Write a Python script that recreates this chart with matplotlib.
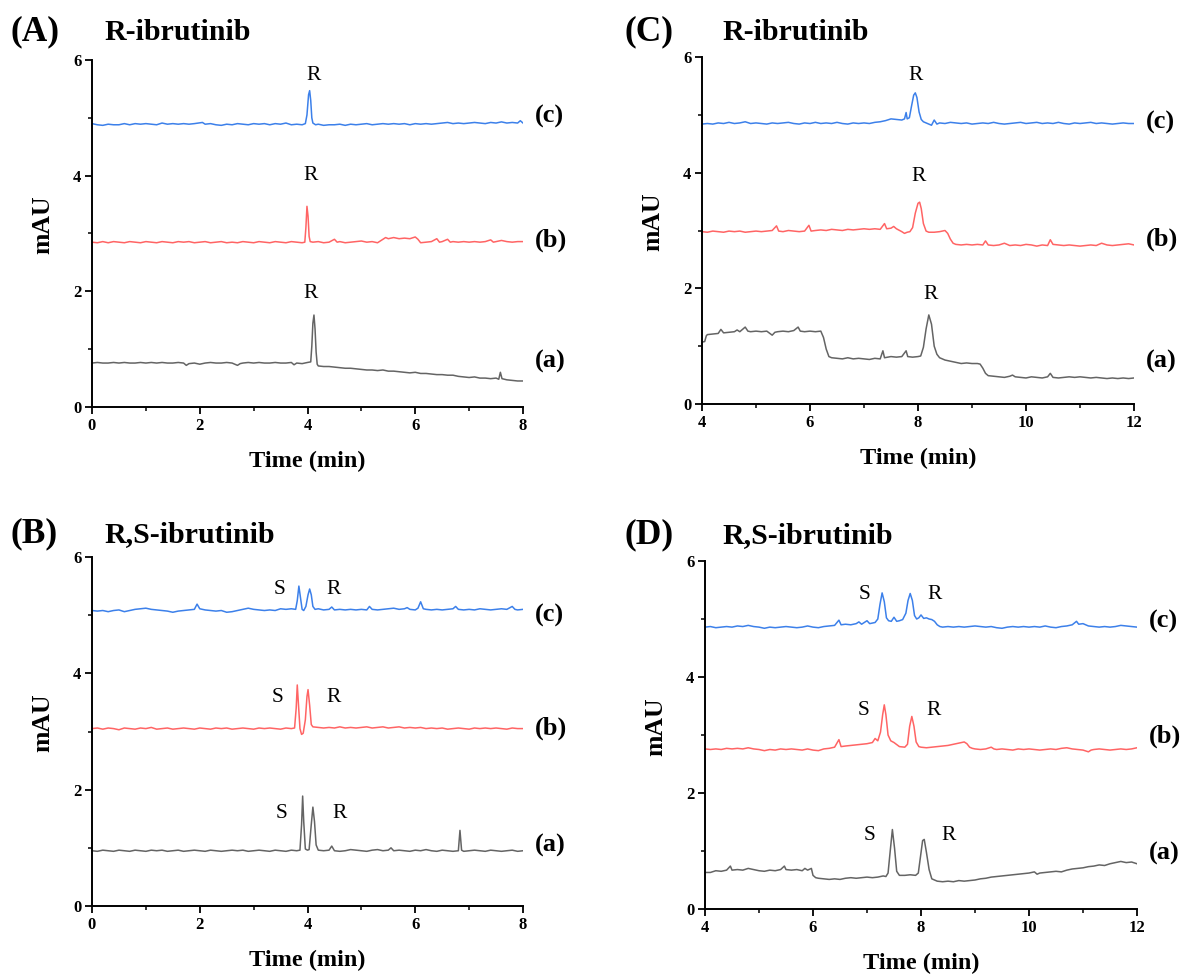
import numpy as np
import matplotlib
matplotlib.use("Agg")
import matplotlib.pyplot as plt
from matplotlib.ticker import MultipleLocator

plt.rcParams['font.family'] = ['Liberation Serif', 'DejaVu Serif']

# chromatogram traces, (time min, mAU)
# panel A: R-ibrutinib, 0-8 min
A_c = [(0.0,4.90),(0.1,4.88),(0.2,4.87),(0.3,4.89),(0.4,4.88),(0.5,4.88),(0.6,4.90),(0.7,4.88),(0.8,4.90),(0.9,4.89),
       (1.0,4.90),(1.1,4.89),(1.2,4.88),(1.3,4.91),(1.4,4.89),(1.5,4.90),(1.6,4.89),(1.7,4.90),(1.8,4.89),(1.9,4.90),
       (2.05,4.92),(2.1,4.89),(2.2,4.90),(2.3,4.88),(2.4,4.87),(2.5,4.89),(2.6,4.88),(2.7,4.90),(2.8,4.89),(2.9,4.88),
       (3.0,4.90),(3.1,4.89),(3.2,4.90),(3.3,4.88),(3.4,4.90),(3.5,4.89),(3.6,4.91),(3.7,4.88),(3.8,4.89),(3.9,4.88),
       (3.96,4.90),(3.99,5.05),(4.02,5.40),(4.04,5.47),(4.06,5.30),(4.08,5.00),(4.10,4.91),(4.15,4.88),(4.2,4.89),
       (4.3,4.87),(4.4,4.88),(4.5,4.88),(4.6,4.89),(4.7,4.87),(4.8,4.89),(4.9,4.88),(5.0,4.89),(5.1,4.90),(5.2,4.88),
       (5.3,4.89),(5.4,4.90),(5.5,4.89),(5.6,4.90),(5.7,4.89),(5.8,4.90),(5.9,4.88),(6.0,4.90),(6.1,4.89),(6.2,4.90),
       (6.3,4.89),(6.4,4.90),(6.5,4.91),(6.6,4.92),(6.7,4.90),(6.8,4.91),(6.9,4.90),(7.0,4.91),(7.1,4.92),(7.2,4.91),
       (7.3,4.90),(7.4,4.92),(7.5,4.91),(7.6,4.93),(7.7,4.91),(7.8,4.92),(7.9,4.91),(7.95,4.95),(8.0,4.91)]
A_b = [(0.0,2.85),(0.1,2.84),(0.2,2.86),(0.3,2.84),(0.4,2.86),(0.5,2.85),(0.6,2.84),(0.7,2.86),(0.8,2.85),(0.9,2.84),
       (1.0,2.86),(1.1,2.85),(1.2,2.84),(1.3,2.86),(1.4,2.85),(1.5,2.84),(1.6,2.86),(1.7,2.85),(1.8,2.86),(1.9,2.84),
       (2.0,2.85),(2.1,2.86),(2.2,2.84),(2.3,2.85),(2.4,2.86),(2.5,2.84),(2.6,2.85),(2.7,2.84),(2.8,2.86),(2.9,2.85),
       (3.0,2.84),(3.1,2.86),(3.2,2.85),(3.3,2.84),(3.4,2.86),(3.5,2.85),(3.6,2.84),(3.7,2.86),(3.8,2.85),(3.9,2.84),
       (3.95,2.85),(3.97,3.10),(3.99,3.47),(4.01,3.30),(4.03,2.95),(4.05,2.86),(4.1,2.85),(4.2,2.86),(4.3,2.84),
       (4.4,2.85),(4.5,2.90),(4.55,2.85),(4.6,2.86),(4.7,2.84),(4.8,2.85),(4.9,2.86),(5.0,2.87),(5.1,2.85),(5.2,2.86),
       (5.3,2.84),(5.4,2.90),(5.45,2.93),(5.5,2.91),(5.6,2.93),(5.7,2.91),(5.8,2.92),(5.9,2.91),(6.0,2.94),(6.05,2.90),
       (6.1,2.84),(6.2,2.85),(6.3,2.86),(6.4,2.91),(6.45,2.85),(6.5,2.86),(6.6,2.90),(6.65,2.85),(6.7,2.86),(6.8,2.85),
       (6.9,2.86),(7.0,2.85),(7.1,2.86),(7.2,2.85),(7.3,2.86),(7.4,2.89),(7.45,2.85),(7.5,2.86),(7.6,2.88),(7.7,2.86),
       (7.8,2.85),(7.9,2.86),(8.0,2.86)]
A_a = [(0.0,0.76),(0.1,0.77),(0.2,0.76),(0.3,0.76),(0.4,0.77),(0.5,0.76),(0.6,0.77),(0.7,0.76),(0.8,0.76),(0.9,0.77),
       (1.0,0.76),(1.1,0.77),(1.2,0.76),(1.3,0.77),(1.4,0.76),(1.5,0.76),(1.6,0.77),(1.7,0.76),(1.75,0.72),(1.8,0.75),
       (1.9,0.76),(2.0,0.74),(2.1,0.76),(2.2,0.77),(2.3,0.76),(2.4,0.76),(2.5,0.77),(2.6,0.76),(2.7,0.72),(2.75,0.75),
       (2.8,0.76),(2.9,0.77),(3.0,0.76),(3.1,0.77),(3.2,0.76),(3.3,0.76),(3.4,0.77),(3.5,0.76),(3.6,0.76),(3.7,0.77),
       (3.75,0.73),(3.8,0.76),(3.9,0.75),(4.0,0.77),(4.06,0.78),(4.08,1.05),(4.10,1.45),(4.12,1.59),(4.14,1.35),
       (4.16,0.95),(4.18,0.74),(4.2,0.71),(4.3,0.70),(4.4,0.70),(4.5,0.69),(4.6,0.68),(4.7,0.67),(4.8,0.67),(4.9,0.66),
       (5.0,0.65),(5.1,0.64),(5.2,0.64),(5.3,0.63),(5.4,0.64),(5.5,0.62),(5.6,0.62),(5.7,0.61),(5.8,0.60),(5.9,0.59),
       (6.0,0.60),(6.1,0.58),(6.2,0.58),(6.3,0.57),(6.4,0.56),(6.5,0.56),(6.6,0.55),(6.7,0.55),(6.8,0.53),(6.9,0.52),
       (7.0,0.51),(7.1,0.52),(7.2,0.50),(7.3,0.50),(7.4,0.49),(7.5,0.50),(7.55,0.48),(7.58,0.60),(7.61,0.49),
       (7.7,0.47),(7.8,0.46),(7.9,0.45),(8.0,0.45)]

# panel B: R,S-ibrutinib, 0-8 min
B_c = [(0.0,5.08),(0.1,5.07),(0.2,5.08),(0.3,5.06),(0.4,5.08),(0.5,5.09),(0.6,5.06),(0.7,5.08),(0.8,5.10),(0.9,5.11),
       (1.0,5.12),(1.1,5.10),(1.2,5.09),(1.3,5.08),(1.4,5.07),(1.5,5.05),(1.6,5.07),(1.7,5.08),(1.8,5.09),(1.9,5.10),
       (1.95,5.19),(2.0,5.11),(2.1,5.09),(2.2,5.08),(2.3,5.07),(2.4,5.08),(2.5,5.05),(2.6,5.06),(2.7,5.08),(2.8,5.10),
       (2.9,5.12),(3.0,5.10),(3.1,5.09),(3.2,5.08),(3.3,5.09),(3.4,5.08),(3.5,5.11),(3.6,5.10),(3.7,5.11),(3.78,5.10),
       (3.81,5.25),(3.84,5.50),(3.87,5.30),(3.90,5.10),(3.93,5.08),(3.97,5.15),(4.01,5.35),(4.04,5.45),(4.07,5.35),
       (4.10,5.15),(4.14,5.10),(4.2,5.11),(4.3,5.09),(4.4,5.10),(4.45,5.14),(4.5,5.09),(4.6,5.10),(4.7,5.09),
       (4.8,5.10),(4.9,5.09),(5.0,5.10),(5.1,5.09),(5.15,5.15),(5.2,5.10),(5.3,5.09),(5.4,5.10),(5.5,5.11),(5.6,5.12),
       (5.7,5.10),(5.8,5.11),(5.85,5.13),(5.9,5.10),(6.0,5.09),(6.05,5.12),(6.1,5.23),(6.15,5.11),(6.2,5.10),
       (6.3,5.09),(6.4,5.10),(6.5,5.09),(6.6,5.10),(6.7,5.11),(6.75,5.15),(6.8,5.10),(6.9,5.09),(7.0,5.10),(7.1,5.09),
       (7.2,5.11),(7.3,5.10),(7.4,5.09),(7.5,5.10),(7.6,5.11),(7.7,5.10),(7.8,5.15),(7.85,5.10),(7.9,5.09),(8.0,5.10)]
B_b = [(0.0,3.05),(0.1,3.06),(0.2,3.04),(0.3,3.06),(0.4,3.05),(0.5,3.03),(0.6,3.06),(0.7,3.05),(0.8,3.04),(0.9,3.06),
       (1.0,3.05),(1.1,3.07),(1.2,3.04),(1.3,3.05),(1.4,3.06),(1.5,3.04),(1.6,3.05),(1.7,3.06),(1.8,3.05),(1.9,3.04),
       (2.0,3.06),(2.1,3.05),(2.2,3.04),(2.3,3.06),(2.4,3.05),(2.5,3.06),(2.6,3.04),(2.7,3.05),(2.8,3.06),(2.9,3.05),
       (3.0,3.04),(3.1,3.06),(3.2,3.05),(3.3,3.06),(3.4,3.05),(3.5,3.04),(3.6,3.06),(3.7,3.05),(3.76,3.06),
       (3.79,3.40),(3.81,3.80),(3.83,3.50),(3.86,3.05),(3.89,2.95),(3.92,2.97),(3.96,3.20),(3.99,3.60),(4.01,3.72),
       (4.04,3.45),(4.07,3.12),(4.10,3.08),(4.2,3.07),(4.3,3.06),(4.4,3.07),(4.5,3.06),(4.6,3.08),(4.7,3.06),
       (4.8,3.07),(4.9,3.06),(5.0,3.07),(5.1,3.08),(5.2,3.06),(5.3,3.07),(5.4,3.08),(5.5,3.06),(5.6,3.07),(5.7,3.08),
       (5.8,3.06),(5.9,3.07),(6.0,3.06),(6.1,3.07),(6.2,3.05),(6.3,3.06),(6.4,3.05),(6.5,3.06),(6.6,3.04),(6.7,3.05),
       (6.8,3.06),(6.9,3.05),(7.0,3.04),(7.1,3.06),(7.2,3.05),(7.3,3.06),(7.4,3.05),(7.5,3.06),(7.6,3.05),(7.7,3.04),
       (7.8,3.06),(7.9,3.05),(8.0,3.05)]
B_a = [(0.0,0.95),(0.1,0.94),(0.2,0.96),(0.3,0.95),(0.4,0.94),(0.5,0.96),(0.6,0.95),(0.7,0.94),(0.8,0.96),(0.9,0.95),
       (1.0,0.94),(1.1,0.96),(1.2,0.95),(1.3,0.96),(1.4,0.94),(1.5,0.95),(1.6,0.96),(1.7,0.94),(1.8,0.95),(1.9,0.96),
       (2.0,0.95),(2.1,0.94),(2.2,0.96),(2.3,0.95),(2.4,0.94),(2.5,0.95),(2.6,0.96),(2.7,0.95),(2.8,0.96),(2.9,0.94),
       (3.0,0.95),(3.1,0.96),(3.2,0.95),(3.3,0.94),(3.4,0.96),(3.5,0.95),(3.6,0.94),(3.7,0.96),(3.8,0.95),(3.86,0.96),
       (3.89,1.40),(3.91,1.89),(3.93,1.45),(3.96,0.98),(4.0,0.96),(4.03,0.97),(4.07,1.40),(4.10,1.70),(4.13,1.45),
       (4.16,1.05),(4.2,0.96),(4.3,0.95),(4.4,0.96),(4.45,1.03),(4.5,0.95),(4.6,0.94),(4.7,0.95),(4.8,0.97),
       (4.9,0.96),(5.0,0.95),(5.1,0.94),(5.2,0.96),(5.3,0.97),(5.4,0.95),(5.5,0.96),(5.55,1.00),(5.6,0.95),(5.7,0.96),
       (5.8,0.95),(5.9,0.94),(6.0,0.96),(6.1,0.95),(6.2,0.97),(6.3,0.95),(6.4,0.94),(6.5,0.96),(6.6,0.95),(6.7,0.94),
       (6.8,0.95),(6.83,1.30),(6.86,0.96),(6.9,0.94),(7.0,0.95),(7.1,0.96),(7.2,0.95),(7.3,0.94),(7.4,0.96),
       (7.5,0.95),(7.6,0.94),(7.7,0.95),(7.8,0.96),(7.9,0.94),(8.0,0.95)]

# panel C: R-ibrutinib, 4-12 min
C_c = [(4.0,4.84),(4.1,4.85),(4.2,4.84),(4.3,4.86),(4.4,4.85),(4.5,4.87),(4.6,4.85),(4.7,4.86),(4.8,4.88),(4.9,4.85),
       (5.0,4.86),(5.1,4.85),(5.2,4.84),(5.3,4.86),(5.4,4.85),(5.5,4.86),(5.6,4.87),(5.7,4.85),(5.8,4.84),(5.9,4.86),
       (6.0,4.85),(6.1,4.87),(6.2,4.85),(6.3,4.86),(6.4,4.85),(6.5,4.87),(6.6,4.85),(6.7,4.84),(6.8,4.86),(6.9,4.85),
       (7.0,4.86),(7.1,4.85),(7.2,4.87),(7.3,4.88),(7.4,4.90),(7.5,4.93),(7.6,4.92),(7.7,4.91),(7.75,4.93),
       (7.78,5.04),(7.80,4.93),(7.84,4.95),(7.88,5.15),(7.92,5.34),(7.95,5.38),(7.98,5.30),(8.02,5.05),(8.06,4.92),
       (8.1,4.88),(8.2,4.84),(8.25,4.82),(8.3,4.91),(8.35,4.84),(8.4,4.86),(8.5,4.85),(8.6,4.87),(8.7,4.86),
       (8.8,4.85),(8.9,4.86),(9.0,4.84),(9.1,4.85),(9.2,4.86),(9.3,4.85),(9.4,4.87),(9.5,4.85),(9.6,4.84),(9.7,4.85),
       (9.8,4.86),(9.9,4.87),(10.0,4.85),(10.1,4.86),(10.2,4.87),(10.3,4.85),(10.4,4.86),(10.5,4.85),(10.6,4.87),
       (10.7,4.85),(10.8,4.84),(10.9,4.86),(11.0,4.85),(11.1,4.86),(11.2,4.87),(11.3,4.85),(11.4,4.86),(11.5,4.85),
       (11.6,4.84),(11.7,4.85),(11.8,4.86),(11.9,4.85),(12.0,4.85)]
C_b = [(4.0,2.98),(4.1,2.97),(4.2,2.99),(4.3,2.98),(4.4,2.97),(4.5,2.99),(4.6,2.98),(4.7,2.99),(4.8,2.97),(4.9,2.98),
       (5.0,2.99),(5.1,2.98),(5.2,2.99),(5.3,3.00),(5.38,3.08),(5.42,2.99),(5.5,2.98),(5.6,3.00),(5.7,2.99),(5.8,2.98),
       (5.9,2.99),(5.98,3.09),(6.02,2.99),(6.1,3.00),(6.2,3.01),(6.3,3.00),(6.4,3.02),(6.5,3.01),(6.6,3.00),(6.7,3.02),
       (6.8,3.01),(6.9,3.02),(7.0,3.03),(7.1,3.02),(7.2,3.03),(7.3,3.02),(7.38,3.12),(7.42,3.03),(7.5,3.04),
       (7.55,3.07),(7.6,3.03),(7.7,2.98),(7.75,2.95),(7.8,2.97),(7.85,2.98),(7.9,3.05),(7.95,3.30),(8.0,3.47),
       (8.03,3.49),(8.06,3.38),(8.1,3.12),(8.15,2.99),(8.2,2.97),(8.3,2.97),(8.4,2.98),(8.5,3.00),(8.55,2.95),
       (8.6,2.85),(8.65,2.78),(8.7,2.76),(8.8,2.75),(8.9,2.76),(9.0,2.75),(9.1,2.76),(9.2,2.75),(9.25,2.82),(9.3,2.75),
       (9.4,2.74),(9.5,2.75),(9.6,2.78),(9.7,2.74),(9.8,2.75),(9.9,2.74),(10.0,2.76),(10.1,2.75),(10.2,2.73),
       (10.3,2.75),(10.4,2.74),(10.45,2.84),(10.5,2.76),(10.6,2.75),(10.7,2.74),(10.8,2.75),(10.9,2.74),(11.0,2.73),
       (11.1,2.74),(11.2,2.75),(11.3,2.74),(11.4,2.78),(11.5,2.75),(11.6,2.74),(11.7,2.75),(11.8,2.76),(11.9,2.77),
       (12.0,2.75)]
C_a = [(4.0,1.07),(4.05,1.08),(4.08,1.18),(4.1,1.20),(4.2,1.21),(4.3,1.22),(4.35,1.29),(4.4,1.23),(4.5,1.24),
       (4.6,1.25),(4.65,1.28),(4.7,1.25),(4.8,1.33),(4.85,1.26),(4.9,1.25),(5.0,1.26),(5.1,1.25),(5.2,1.26),(5.3,1.19),
       (5.35,1.24),(5.4,1.25),(5.5,1.26),(5.6,1.25),(5.7,1.27),(5.78,1.33),(5.82,1.26),(5.9,1.25),(6.0,1.26),
       (6.1,1.25),(6.2,1.26),(6.25,1.15),(6.3,0.95),(6.35,0.82),(6.4,0.80),(6.5,0.79),(6.6,0.78),(6.7,0.80),
       (6.8,0.78),(6.9,0.79),(7.0,0.78),(7.1,0.77),(7.2,0.79),(7.3,0.78),(7.35,0.92),(7.38,0.80),(7.5,0.82),
       (7.6,0.81),(7.7,0.82),(7.78,0.92),(7.81,0.82),(7.9,0.81),(8.0,0.82),(8.05,0.83),(8.1,0.98),(8.15,1.30),
       (8.2,1.54),(8.25,1.38),(8.3,1.00),(8.35,0.86),(8.4,0.80),(8.45,0.78),(8.5,0.76),(8.6,0.74),(8.7,0.72),
       (8.8,0.70),(8.9,0.71),(9.0,0.70),(9.1,0.70),(9.15,0.69),(9.2,0.62),(9.25,0.53),(9.3,0.49),(9.4,0.48),
       (9.5,0.47),(9.6,0.46),(9.7,0.48),(9.75,0.50),(9.8,0.47),(9.9,0.46),(10.0,0.45),(10.1,0.47),(10.2,0.46),
       (10.3,0.45),(10.4,0.47),(10.45,0.53),(10.5,0.46),(10.6,0.45),(10.7,0.46),(10.8,0.47),(10.9,0.46),(11.0,0.47),
       (11.1,0.46),(11.2,0.45),(11.3,0.46),(11.4,0.45),(11.5,0.44),(11.6,0.45),(11.7,0.44),(11.8,0.45),(11.9,0.44),
       (12.0,0.45)]

# panel D: R,S-ibrutinib, 4-12 min
D_c = [(4.0,4.86),(4.1,4.87),(4.2,4.85),(4.3,4.86),(4.4,4.87),(4.5,4.86),(4.6,4.88),(4.7,4.87),(4.8,4.89),(4.9,4.87),
       (5.0,4.86),(5.1,4.84),(5.2,4.86),(5.3,4.85),(5.4,4.86),(5.5,4.87),(5.6,4.86),(5.7,4.85),(5.8,4.86),(5.9,4.88),
       (6.0,4.86),(6.1,4.85),(6.2,4.87),(6.3,4.88),(6.4,4.89),(6.48,4.98),(6.52,4.90),(6.6,4.91),(6.7,4.90),
       (6.8,4.92),(6.85,4.95),(6.9,4.91),(7.0,4.97),(7.05,4.92),(7.1,4.93),(7.15,4.94),(7.2,5.00),(7.24,5.25),
       (7.28,5.45),(7.32,5.30),(7.36,5.02),(7.4,4.97),(7.45,4.96),(7.5,5.03),(7.55,4.96),(7.6,4.97),(7.66,4.99),
       (7.72,5.10),(7.76,5.32),(7.80,5.44),(7.84,5.32),(7.88,5.06),(7.92,5.00),(7.96,5.02),(8.0,5.07),(8.05,5.01),
       (8.1,5.02),(8.15,5.00),(8.2,4.99),(8.25,4.96),(8.3,4.90),(8.35,4.87),(8.4,4.86),(8.5,4.87),(8.6,4.86),
       (8.7,4.87),(8.8,4.86),(8.9,4.87),(9.0,4.88),(9.1,4.87),(9.2,4.86),(9.3,4.87),(9.4,4.85),(9.5,4.84),(9.6,4.86),
       (9.7,4.87),(9.8,4.86),(9.9,4.87),(10.0,4.86),(10.1,4.87),(10.2,4.86),(10.3,4.88),(10.4,4.86),(10.5,4.85),
       (10.6,4.87),(10.7,4.88),(10.8,4.90),(10.88,4.96),(10.92,4.91),(11.0,4.92),(11.1,4.88),(11.2,4.87),(11.3,4.86),
       (11.4,4.87),(11.5,4.86),(11.6,4.87),(11.7,4.89),(11.8,4.88),(11.9,4.87),(12.0,4.86)]
D_b = [(4.0,2.76),(4.1,2.75),(4.2,2.76),(4.3,2.75),(4.4,2.77),(4.5,2.76),(4.6,2.77),(4.7,2.76),(4.8,2.78),(4.9,2.76),
       (5.0,2.75),(5.1,2.73),(5.2,2.75),(5.3,2.74),(5.4,2.76),(5.5,2.75),(5.6,2.76),(5.7,2.75),(5.8,2.74),(5.9,2.76),
       (6.0,2.74),(6.1,2.73),(6.2,2.76),(6.3,2.77),(6.4,2.79),(6.48,2.92),(6.52,2.80),(6.6,2.81),(6.7,2.82),
       (6.8,2.83),(6.9,2.84),(7.0,2.85),(7.1,2.87),(7.15,2.94),(7.2,2.90),(7.25,3.05),(7.29,3.35),(7.32,3.52),
       (7.35,3.35),(7.39,3.00),(7.44,2.90),(7.5,2.87),(7.6,2.80),(7.7,2.79),(7.75,2.84),(7.79,3.15),(7.83,3.32),
       (7.87,3.15),(7.91,2.88),(7.96,2.80),(8.0,2.79),(8.1,2.78),(8.2,2.79),(8.3,2.80),(8.4,2.81),(8.5,2.82),
       (8.6,2.84),(8.7,2.86),(8.8,2.88),(8.85,2.85),(8.9,2.79),(8.95,2.77),(9.0,2.76),(9.1,2.75),(9.2,2.76),
       (9.3,2.79),(9.35,2.76),(9.4,2.75),(9.5,2.76),(9.6,2.75),(9.7,2.74),(9.8,2.76),(9.9,2.75),(10.0,2.76),
       (10.1,2.75),(10.2,2.74),(10.3,2.75),(10.4,2.76),(10.5,2.75),(10.6,2.77),(10.7,2.78),(10.8,2.76),(10.9,2.75),
       (11.0,2.74),(11.1,2.71),(11.15,2.74),(11.2,2.75),(11.3,2.76),(11.4,2.75),(11.5,2.74),(11.6,2.75),(11.7,2.76),
       (11.8,2.75),(11.9,2.76),(12.0,2.78)]
D_a = [(4.0,0.63),(4.1,0.63),(4.2,0.66),(4.3,0.65),(4.4,0.67),(4.47,0.74),(4.5,0.67),(4.6,0.68),(4.7,0.67),
       (4.8,0.70),(4.9,0.68),(5.0,0.66),(5.1,0.65),(5.2,0.67),(5.3,0.66),(5.4,0.68),(5.47,0.74),(5.5,0.68),(5.6,0.67),
       (5.7,0.68),(5.8,0.66),(5.85,0.70),(5.9,0.67),(5.97,0.70),(6.0,0.58),(6.05,0.54),(6.1,0.53),(6.2,0.52),
       (6.3,0.51),(6.4,0.52),(6.5,0.51),(6.6,0.53),(6.7,0.54),(6.8,0.53),(6.9,0.54),(7.0,0.55),(7.1,0.54),(7.2,0.55),
       (7.3,0.57),(7.35,0.56),(7.39,0.62),(7.43,1.00),(7.47,1.37),(7.51,1.05),(7.55,0.65),(7.6,0.58),(7.7,0.58),
       (7.8,0.59),(7.9,0.58),(7.95,0.62),(7.99,0.90),(8.03,1.18),(8.06,1.20),(8.1,0.98),(8.15,0.68),(8.2,0.52),
       (8.3,0.48),(8.4,0.47),(8.5,0.48),(8.6,0.47),(8.7,0.49),(8.8,0.48),(8.9,0.49),(9.0,0.50),(9.1,0.52),(9.2,0.53),
       (9.3,0.55),(9.4,0.56),(9.5,0.57),(9.6,0.58),(9.7,0.59),(9.8,0.60),(9.9,0.61),(10.0,0.62),(10.1,0.64),
       (10.15,0.60),(10.2,0.62),(10.3,0.63),(10.4,0.64),(10.5,0.65),(10.6,0.64),(10.7,0.67),(10.8,0.69),(10.9,0.70),
       (11.0,0.71),(11.1,0.73),(11.2,0.74),(11.3,0.76),(11.4,0.75),(11.5,0.78),(11.6,0.80),(11.7,0.82),(11.8,0.80),
       (11.9,0.81),(12.0,0.78)]

# peak labels (text, time, mAU)
A_peaks = [("R", 4.11, 5.66), ("R", 4.05, 3.92), ("R", 4.05, 1.89)]
B_peaks = [("S", 3.49, 5.37), ("R", 4.48, 5.37), ("S", 3.44, 3.51), ("R", 4.49, 3.51),
           ("S", 3.52, 1.52), ("R", 4.59, 1.52)]
C_peaks = [("R", 7.96, 5.61), ("R", 8.02, 3.86), ("R", 8.23, 1.82)]
D_peaks = [("S", 6.95, 5.34), ("R", 8.26, 5.34), ("S", 6.93, 3.34), ("R", 8.24, 3.34),
           ("S", 7.05, 1.19), ("R", 8.51, 1.19)]

trace_names = ["(c)", "(b)", "(a)"]
trace_colors = ["#3c80ea", "#ff6464", "#646464"]

A_tags = [5.03, 2.89, 0.78]
B_tags = [5.00, 3.05, 1.04]
C_tags = [4.86, 2.84, 0.73]
D_tags = [4.95, 2.97, 0.96]

W, H = 1184, 977
fig = plt.figure(figsize=(W / 100, H / 100), dpi=100)


def px_axes(l, t, r, b):
    return fig.add_axes([l / W, 1 - b / H, (r - l) / W, (b - t) / H])


def draw_panel(ax, traces, peaks, tags, xlim, letter, title, let_x, tit_x, base_y):
    for tr, col in zip(traces, trace_colors):
        d = np.array(tr)
        ax.plot(d[:, 0], d[:, 1], color=col, lw=1.1)
    ax.set_xlim(*xlim)
    ax.set_ylim(0, 6)
    ax.xaxis.set_major_locator(MultipleLocator(2))
    ax.xaxis.set_minor_locator(MultipleLocator(1))
    ax.yaxis.set_major_locator(MultipleLocator(2))
    ax.yaxis.set_minor_locator(MultipleLocator(1))
    for s in ["top", "right"]:
        ax.spines[s].set_visible(False)
    for s in ["left", "bottom"]:
        ax.spines[s].set_linewidth(1.4)
    ax.tick_params(which="major", direction="out", length=4.7, width=1.3, pad=3, labelsize=12)
    ax.tick_params(which="minor", direction="out", length=2.9, width=1.1)
    for lab in ax.get_xticklabels() + ax.get_yticklabels():
        lab.set_fontweight("bold")
    ax.set_xlabel("Time (min)", fontsize=17.5, fontweight="bold", va="top")
    ax.xaxis.set_label_coords(0.5, -0.127)
    ax.set_ylabel("mAU", fontsize=18.5, fontweight="bold")
    ax.yaxis.set_label_coords(-0.088, 0.524)
    for txt, x, y in peaks:
        ax.text(x, y, txt, fontsize=15.5, ha="center", va="baseline")
    for name, y in zip(trace_names, tags):
        ax.annotate(name, xy=(1, y), xycoords=ax.get_yaxis_transform(), xytext=(8.5, 0),
                    textcoords="offset points", fontsize=19, fontweight="bold", va="center", ha="left")
    fig.text(let_x / W, 1 - base_y / H, letter, fontsize=25.5, fontweight="bold", va="baseline")
    fig.text(tit_x / W, 1 - base_y / H, title, fontsize=21.5, fontweight="bold", va="baseline")


axA = px_axes(92, 60, 523, 407)
axB = px_axes(92, 557, 523, 906)
axC = px_axes(702, 57, 1134, 404)
axD = px_axes(705, 561, 1137, 909)

draw_panel(axA, [A_c, A_b, A_a], A_peaks, A_tags, (0, 8), "(A)", "R-ibrutinib", 11, 104, 40)
draw_panel(axB, [B_c, B_b, B_a], B_peaks, B_tags, (0, 8), "(B)", "R,S-ibrutinib", 11, 104, 542)
draw_panel(axC, [C_c, C_b, C_a], C_peaks, C_tags, (4, 12), "(C)", "R-ibrutinib", 625, 722, 40)
draw_panel(axD, [D_c, D_b, D_a], D_peaks, D_tags, (4, 12), "(D)", "R,S-ibrutinib", 625, 722, 543)

fig.savefig("out.png", dpi=100)
